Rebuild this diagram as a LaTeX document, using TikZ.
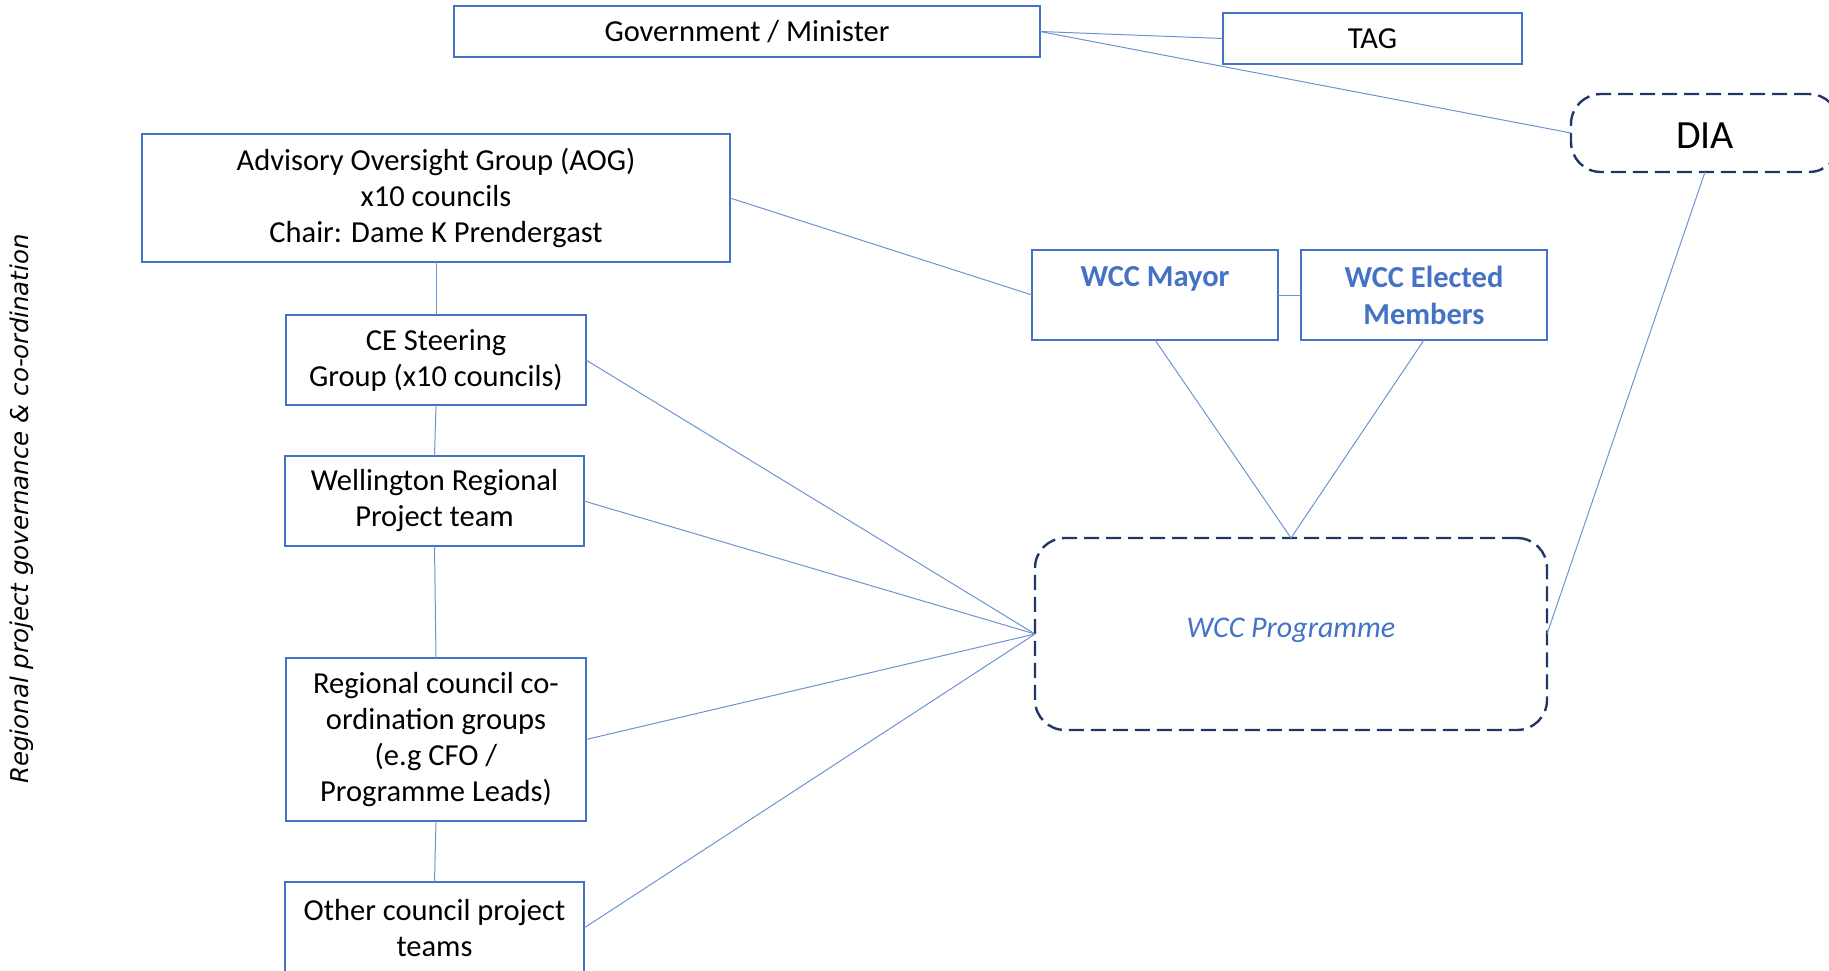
\documentclass[tikz,border=0pt]{standalone}
\usepackage{fontspec}
\setmainfont{Carlito}
\newfontfamily\vertfont{DejaVu Sans}
\definecolor{boxblue}{HTML}{4472C4}
\definecolor{lineblue}{HTML}{6E92D2}
\definecolor{navy}{HTML}{203864}
\begin{document}
\begin{tikzpicture}[x=1pt,y=-1pt,
  every node/.style={inner sep=0pt,outer sep=0pt},
  bluebox/.style={draw=boxblue,line width=1.8pt,align=center,
    font=\fontsize{30.5}{36}\selectfont},
  wccbox/.style={bluebox,text=boxblue,font=\fontsize{30.5}{37}\selectfont\bfseries},
  dashbox/.style={draw=navy,line width=2.4pt,dash pattern=on 15pt off 7pt,rounded corners=30pt},
  conn/.style={draw=lineblue,line width=1pt}]
\useasboundingbox (0,0) rectangle (1829,971);
\clip (0,0) rectangle (1829,971);
% top row
\node[bluebox,minimum width=586pt,minimum height=51pt] (gov) at (747,31.5) {Government / Minister};
\node[bluebox,minimum width=299pt,minimum height=51pt] (tag) at (1372.5,38.5) {TAG};
\node[dashbox,minimum width=268pt,minimum height=78pt,text height=31pt,text depth=0pt,font=\fontsize{40}{44}\selectfont] (dia) at (1705,133) {DIA};
% left column
\node[bluebox,minimum width=588pt,minimum height=128pt] (aog) at (436,198) {Advisory Oversight Group (AOG)\\x10 councils\\Chair: Dame K Prendergast};
\node[bluebox,minimum width=300pt,minimum height=90pt] (ce) at (436,360) {CE Steering\\Group (x10 councils)};
\node[bluebox,minimum width=299pt,minimum height=90pt] (wrp) at (434.5,501) {Wellington Regional\\Project team};
\node[bluebox,minimum width=300pt,minimum height=163pt] (rcc) at (436,739.5) {Regional council co-\\ordination groups\\(e.g CFO /\\Programme Leads)};
\node[bluebox,minimum width=299pt,minimum height=92pt] (other) at (434.5,928) {Other council project\\teams};
% WCC
\node[wccbox,minimum width=246pt,minimum height=90pt] (mayor) at (1155,295) {WCC Mayor\\\vphantom{Members}};
\node[wccbox,minimum width=246pt,minimum height=90pt] (elected) at (1424,295) {WCC Elected\\Members};
\node[dashbox,minimum width=512pt,minimum height=192pt,text height=16pt,text depth=9pt,text=boxblue,font=\fontsize{30}{36}\selectfont\itshape] (prog) at (1291,634) {WCC Programme};
% vertical label
\node[rotate=90,font=\vertfont\itshape\fontsize{24.5}{28}\selectfont] (side) at (22,509) {Regional project governance \& co-ordination};
% connectors
\draw[conn] (gov.east) -- (tag.west);
\draw[conn] (gov.east) -- (dia.west);
\draw[conn] (aog.east) -- (mayor.west);
\draw[conn] (mayor.east) -- (elected.west);
\draw[conn] (aog.south) -- (ce.north);
\draw[conn] (ce.south) -- (wrp.north);
\draw[conn] (wrp.south) -- (rcc.north);
\draw[conn] (rcc.south) -- (other.north);
\draw[conn] (ce.east) -- (prog.west);
\draw[conn] (wrp.east) -- (prog.west);
\draw[conn] (rcc.east) -- (prog.west);
\draw[conn] (other.east) -- (prog.west);
\draw[conn] (mayor.south) -- (prog.north);
\draw[conn] (elected.south) -- (prog.north);
\draw[conn] (dia.south) -- (prog.east);
\end{tikzpicture}
\end{document}
